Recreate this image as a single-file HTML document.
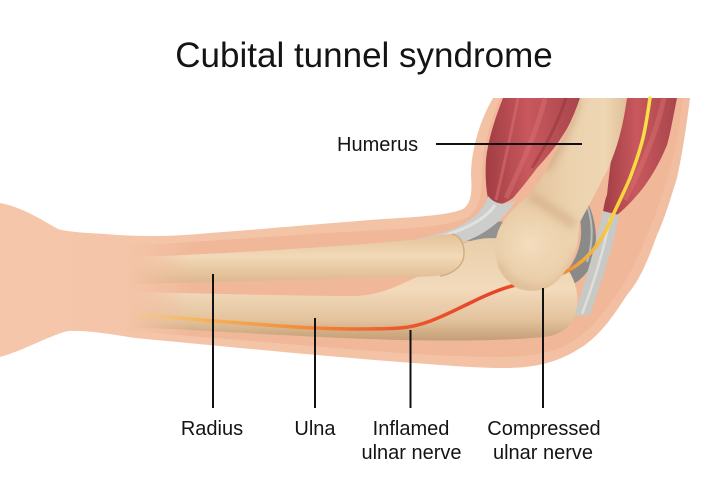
<!DOCTYPE html>
<html><head><meta charset="utf-8"><style>
html,body{margin:0;padding:0;background:#fff;}
body{width:705px;height:494px;overflow:hidden;}
svg{display:block;}
text{font-family:"Liberation Sans",Arial,sans-serif;fill:#141414;}
</style></head><body>
<svg width="705" height="494" viewBox="0 0 705 494" xmlns="http://www.w3.org/2000/svg">
<defs>
  <linearGradient id="skin" x1="0" y1="0" x2="705" y2="0" gradientUnits="userSpaceOnUse">
    <stop offset="0" stop-color="#f5c6aa"/><stop offset="0.5" stop-color="#f4c3a6"/><stop offset="1" stop-color="#f2bea1"/>
  </linearGradient>
  <linearGradient id="inner" x1="125" y1="0" x2="200" y2="0" gradientUnits="userSpaceOnUse">
    <stop offset="0" stop-color="#f0b799" stop-opacity="0"/><stop offset="1" stop-color="#f0b799"/>
  </linearGradient>
  <linearGradient id="fadeL" x1="130" y1="0" x2="190" y2="0" gradientUnits="userSpaceOnUse">
    <stop offset="0" stop-color="#000"/><stop offset="1" stop-color="#fff"/>
  </linearGradient>
  <mask id="mL" maskUnits="userSpaceOnUse" x="0" y="0" width="705" height="494">
    <rect x="0" y="0" width="705" height="494" fill="url(#fadeL)"/>
  </mask>
  <linearGradient id="radG" x1="0" y1="0" x2="0" y2="1">
    <stop offset="0" stop-color="#e4c29a"/><stop offset="0.45" stop-color="#f2d9b8"/><stop offset="1" stop-color="#dcb68c"/>
  </linearGradient>
  <linearGradient id="ulnG" x1="0" y1="0" x2="0" y2="1">
    <stop offset="0" stop-color="#e9cea9"/><stop offset="0.5" stop-color="#f2dabb"/><stop offset="0.8" stop-color="#e3c39d"/><stop offset="1" stop-color="#c49e76"/>
  </linearGradient>
  <linearGradient id="humG" x1="530" y1="0" x2="630" y2="0" gradientUnits="userSpaceOnUse">
    <stop offset="0" stop-color="#e3c39d"/><stop offset="0.4" stop-color="#ecd2ae"/><stop offset="0.75" stop-color="#efd6b3"/><stop offset="1" stop-color="#dcbb95"/>
  </linearGradient>
  <radialGradient id="condG" cx="530" cy="245" r="60" gradientUnits="userSpaceOnUse">
    <stop offset="0" stop-color="#f4debf" stop-opacity="1"/><stop offset="0.55" stop-color="#eed4b0" stop-opacity="0.7"/><stop offset="1" stop-color="#eed4b0" stop-opacity="0"/>
  </radialGradient>
  <linearGradient id="musG" x1="0" y1="0" x2="1" y2="0">
    <stop offset="0" stop-color="#a13d43"/><stop offset="0.45" stop-color="#c8585d"/><stop offset="1" stop-color="#a8464c"/>
  </linearGradient>
  <linearGradient id="nerveG" x1="137" y1="0" x2="650" y2="0" gradientUnits="userSpaceOnUse">
    <stop offset="0" stop-color="#f8c98a" stop-opacity="0.5"/>
    <stop offset="0.12" stop-color="#f6b45c"/>
    <stop offset="0.33" stop-color="#f28a38"/>
    <stop offset="0.5" stop-color="#ec5a2c"/>
    <stop offset="0.7" stop-color="#e6432a"/>
    <stop offset="0.8" stop-color="#ee6a2c"/>
    <stop offset="0.87" stop-color="#f5a83a"/>
    <stop offset="0.93" stop-color="#f8d23d"/>
    <stop offset="1" stop-color="#fbe04a"/>
  </linearGradient>
  <filter id="blur4" x="-50%" y="-50%" width="200%" height="200%"><feGaussianBlur stdDeviation="4"/></filter>
  <clipPath id="humClip">
    <path id="humP" d="M580,98 L627,98 C624,120 620,135 617,145 C612,160 607,172 603,178 C595,195 586,210 580,222 C578,232 578,240 577,245 C574,258 570,265 567,268 C560,280 552,287 540,290 C528,292 518,290 513,285 C503,278 498,270 496,258 C494,245 496,232 503,222 C510,212 520,202 530,195 C540,182 546,170 550,162 C560,145 568,130 573,120 Z"/>
  </clipPath>
</defs>

<!-- outer skin -->
<path d="M0,203 C22,207 42,220 58,229 C72,233 95,233 118,235 C150,237 180,236 210,233 C280,228 350,221 400,218 C430,216 452,214 463,209 C472,203 472,190 471,175 C471,150 480,120 493,98 L690,98 C686,130 682,155 677,178 C670,200 665,218 657,235 C648,260 640,280 627,295 C612,318 600,335 582,347 C562,360 540,368 505,368 C470,368 430,364 400,362 C320,356 220,346 135,338 C110,334 88,330 68,331 C48,336 25,350 0,357 Z" fill="url(#skin)"/>

<!-- inner layer -->
<path d="M125,246 C200,242 300,234 400,229 C430,227 455,224 468,217 C479,210 482,195 482,175 C482,150 490,122 500,98 L683,98 C679,130 674,158 667,180 C660,200 655,218 647,235 C638,258 628,280 614,298 C600,318 588,332 572,342 C555,352 535,356 505,357 C470,357 430,355 400,353 C320,347 220,338 125,331 Z" fill="url(#inner)"/>

<!-- biceps -->
<path d="M503,98 L580,98 C575,112 570,125 563,135 C555,148 546,158 537,168 C528,180 520,190 513,198 C505,204 497,206 490,205 C486,195 485,175 486,160 C488,140 495,118 503,98 Z" fill="url(#musG)"/>
<path d="M518,98 C512,130 504,165 496,200" stroke="#d8706f" stroke-width="3" fill="none" opacity="0.55"/>
<path d="M545,98 C538,128 524,160 506,198" stroke="#d8706f" stroke-width="5" fill="none" opacity="0.5"/>
<path d="M566,98 C558,122 548,142 532,168" stroke="#8f3036" stroke-width="3" fill="none" opacity="0.45"/>

<!-- triceps -->
<path d="M627,98 L677,98 C673,118 670,135 667,145 C660,162 652,176 643,188 C635,198 626,208 617,215 L603,212 C605,200 606,197 607,195 C609,175 611,160 613,145 C618,128 622,112 627,98 Z" fill="url(#musG)"/>
<path d="M664,98 C657,130 645,160 625,200" stroke="#d8706f" stroke-width="5" fill="none" opacity="0.5"/>

<!-- dark grey region behind joint -->
<path d="M455,228 C470,224 490,220 505,222 L503,246 C488,242 470,241 458,240 Z" fill="#929390"/>
<path d="M578,190 C592,202 599,230 595,255 C591,270 582,280 570,286 L562,276 C577,262 584,240 580,220 C578,208 576,198 572,193 Z" fill="#8a8b88"/>
<path d="M585,200 C593,218 594,240 587,262" stroke="#c8c9c5" stroke-width="2" fill="none" opacity="0.8"/>

<!-- biceps tendon -->
<path d="M488,196 C484,212 468,224 445,232 C428,237 412,240 400,244 L406,251 C425,249 445,247 466,241 C488,233 505,218 516,200 C508,205 496,206 488,196 Z" fill="#cdcecb"/>
<path d="M495,205 C485,220 465,230 430,240" stroke="#e6e7e4" stroke-width="3" fill="none" opacity="0.8"/>

<!-- triceps tendon -->
<path d="M603,211 L619,215 C613,250 600,285 590,315 L574,316 C584,285 595,248 603,211 Z" fill="#c8c9c5"/>
<path d="M610,218 C604,250 593,285 582,314" stroke="#e3e4e1" stroke-width="2.5" fill="none" opacity="0.8"/>

<!-- ulna -->
<path mask="url(#mL)" d="M130,292 C200,293 280,296 355,296 C380,295 395,287 410,280 C430,272 448,262 458,248 C470,238 490,236 510,240 L565,266 C574,276 579,292 577,307 C574,323 566,332 550,336 C515,341 450,341 400,340 C300,337 220,331 130,327 Z" fill="url(#ulnG)"/>

<!-- radius -->
<path mask="url(#mL)" d="M130,257 C200,255 280,250 350,245 C380,243 400,241 420,239 C432,237 442,234 452,234 C462,236 466,248 463,260 C459,270 448,275 435,276 C420,277 410,277 400,277 C330,279 250,281 130,284 Z" fill="url(#radG)"/>
<path d="M452,234 C462,236 466,248 463,260 C459,270 448,275 440,276" stroke="#d2ad84" stroke-width="1.5" fill="none"/>

<!-- nerve -->
<path d="M137,315 C180,318 230,322 280,326 C320,329 370,330 400,328 C425,326 445,315 470,303 C490,293 505,287 520,284 C535,281 545,279 553,277 C562,274 570,270 577,265 C585,259 592,252 597,245 C604,235 609,225 613,215 C619,202 625,190 630,178 C636,162 640,150 643,138 C646,125 648,112 650,98" stroke="url(#nerveG)" stroke-width="3.5" fill="none" stroke-linecap="round"/>

<!-- humerus -->
<g clip-path="url(#humClip)">
  <rect x="480" y="95" width="160" height="200" fill="url(#humG)"/>
  <rect x="480" y="180" width="110" height="115" fill="url(#condG)"/>
  <path d="M530,195 C545,205 560,215 575,225" stroke="#c8a27a" stroke-width="10" fill="none" opacity="0.5" filter="url(#blur4)"/>
  <path d="M578,98 C570,125 558,150 545,170" stroke="#c29c74" stroke-width="8" fill="none" opacity="0.6" filter="url(#blur4)"/>
  <path d="M498,262 C505,282 525,294 548,288 C562,282 572,268 578,250" stroke="#d3ae86" stroke-width="5" fill="none" opacity="0.7" filter="url(#blur4)"/>
</g>

<!-- leader lines -->
<g stroke="#111" stroke-width="2">
  <line x1="436" y1="144" x2="582" y2="144"/>
  <line x1="213" y1="274" x2="213" y2="408"/>
  <line x1="315" y1="318" x2="315" y2="408"/>
  <line x1="410.5" y1="330" x2="410.5" y2="408"/>
  <line x1="543" y1="288" x2="543" y2="408"/>
</g>

<!-- text -->
<text x="364" y="67" font-size="35" text-anchor="middle">Cubital tunnel syndrome</text>
<text x="337" y="151" font-size="20">Humerus</text>
<text x="212" y="435" font-size="20" text-anchor="middle">Radius</text>
<text x="315" y="435" font-size="20" text-anchor="middle">Ulna</text>
<text x="411" y="435" font-size="20" text-anchor="middle">Inflamed</text>
<text x="411.5" y="459" font-size="20" text-anchor="middle">ulnar nerve</text>
<text x="544" y="435" font-size="20" text-anchor="middle">Compressed</text>
<text x="543" y="459" font-size="20" text-anchor="middle">ulnar nerve</text>
</svg>
</body></html>
